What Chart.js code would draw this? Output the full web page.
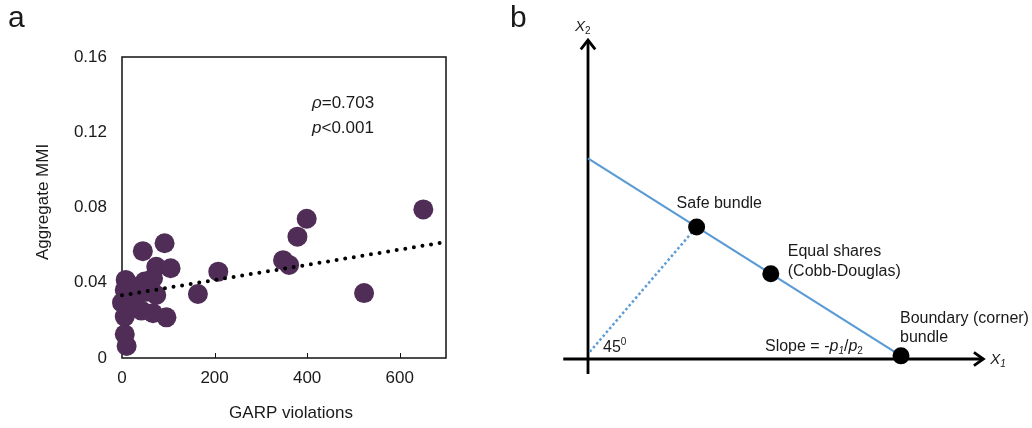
<!DOCTYPE html>
<html>
<head>
<meta charset="utf-8">
<script src="https://cdn.jsdelivr.net/npm/chart.js@4.4.1/dist/chart.umd.min.js"></script>
<style>
body{margin:0;background:#fff;width:1032px;height:428px;overflow:hidden;position:relative;}
canvas{position:absolute;top:0;}
#graficoA{left:0;}
#graficoB{left:500px;}
</style>
</head>
<body>
<canvas id="graficoA" width="500" height="428"></canvas>
<canvas id="graficoB" width="532" height="428"></canvas>
<script>
// painel a - GARP violations x Aggregate MMI
var violacoes = [651, 399, 379, 348, 361, 523, 208, 164, 92, 45, 74, 105, 8, 49, 67, 6, 74, 31, 0, 24, 42, 67, 96, 6, 6, 10, 17, 53, 17];
var mmi = [0.079, 0.074, 0.0645, 0.052, 0.0495, 0.0345, 0.0459, 0.034, 0.061, 0.0568, 0.0485, 0.0477, 0.0415, 0.0406, 0.0424, 0.0361, 0.0335, 0.0335, 0.0294, 0.030, 0.0252, 0.0238, 0.0216, 0.022, 0.0126, 0.0064, 0.0264, 0.0352, 0.0388];
var tendenciaX = [0, 700];
var tendenciaY = [0.0333, 0.0617];
var ticksX = [0, 200, 400, 600];
var ticksY = [0, 0.04, 0.08, 0.12, 0.16];

// painel b - diagrama da reta orcamentaria
var eixoVertX = [0, 0];
var eixoVertY = [-4.8, 101.9];
var eixoHorX = [-7.9, 126.3];
var eixoHorY = [0, 0];
var setaCimaX = [-2.3, 0, 2.3];
var setaCimaY = [98.9, 101.9, 98.9];
var setaDirX = [123.3, 126.3, 123.3];
var setaDirY = [2.1, 0, -2.1];
var restricaoX = [0, 100];
var restricaoY = [64.1, 1];
var cestasX = [34.7, 58.4, 100];
var cestasY = [42.2, 27.2, 1];
var linha45X = [0.6, 34.7];
var linha45Y = [2.3, 42.2];

var fonte = "'Liberation Sans', Arial, sans-serif";

function pontos(xs, ys){
    var p = [];
    for(var i=0;i<xs.length;i++){
        p.push({x: xs[i], y: ys[i]});
    }
    return p;
}

function escreve(ctx, partes, x, y){
    ctx.textBaseline = 'middle';
    ctx.textAlign = 'left';
    for(var i=0;i<partes.length;i++){
        var p = partes[i];
        ctx.font = p.f;
        ctx.fillText(p.t, x, y + (p.dy || 0));
        x += ctx.measureText(p.t).width;
    }
}

var extrasA = {
    id: 'extrasA',
    beforeDatasetsDraw: function(chart){
        var ctx = chart.ctx, a = chart.chartArea, sx = chart.scales.x;
        ctx.save();
        ctx.strokeStyle = '#111';
        ctx.lineWidth = 1.5;
        ctx.strokeRect(a.left, a.top, a.right - a.left, a.bottom - a.top);
        ctx.lineWidth = 1;
        for(var i=1;i<ticksX.length;i++){
            var px = Math.round(sx.getPixelForValue(ticksX[i])) + 0.5;
            ctx.beginPath();
            ctx.moveTo(px, a.bottom);
            ctx.lineTo(px, a.bottom - 5);
            ctx.stroke();
        }
        ctx.restore();
    },
    afterDraw: function(chart){
        var ctx = chart.ctx, a = chart.chartArea;
        ctx.save();
        ctx.fillStyle = '#1a1a1a';
        ctx.font = '30px ' + fonte;
        ctx.textBaseline = 'alphabetic';
        ctx.fillText('a', 8, 27);

        ctx.font = '17px ' + fonte;
        ctx.textAlign = 'center';
        ctx.textBaseline = 'middle';
        ctx.fillText('GARP violations', 291, 413);
        ctx.translate(43, 202);
        ctx.rotate(-Math.PI/2);
        ctx.fillText('Aggregate MMI', 0, 0);
        ctx.restore();

        ctx.save();
        ctx.fillStyle = '#1a1a1a';
        escreve(ctx, [{t:'\u03C1', f:'italic 17px ' + fonte}, {t:'=0.703', f:'17px ' + fonte}], 312, 103);
        escreve(ctx, [{t:'p', f:'italic 17px ' + fonte}, {t:'<0.001', f:'17px ' + fonte}], 312, 128);
        ctx.restore();
    }
};

function criaGraficoA(){
    var grafico = new Chart('graficoA', {
        type: 'scatter',
        data: {
            datasets: [
                {
                    label: 'Tendencia',
                    data: pontos(tendenciaX, tendenciaY),
                    showLine: true,
                    borderColor: '#000',
                    borderWidth: 4,
                    borderDash: [0, 8.7],
                    borderCapStyle: 'round',
                    pointRadius: 0,
                    clip: false
                },
                {
                    label: 'MMI',
                    data: pontos(violacoes, mmi),
                    backgroundColor: '#4f2d56',
                    borderWidth: 0,
                    pointRadius: 10,
                    pointHoverRadius: 10,
                    clip: false
                }
            ]
        },
        options: {
            responsive: false,
            animation: false,
            devicePixelRatio: 1,
            layout: {autoPadding: false, padding: {top: 57, right: 54, left: 0, bottom: 0}},
            plugins: {legend: {display: false}, tooltip: {enabled: false}},
            scales: {
                x: {
                    type: 'linear',
                    min: 0,
                    max: 700,
                    grid: {display: false, drawTicks: false},
                    border: {display: false},
                    afterBuildTicks: function(s){ s.ticks = ticksX.map(function(v){ return {value: v}; }); },
                    afterFit: function(s){ s.height = 70; },
                    ticks: {color: '#1a1a1a', font: {family: fonte, size: 17}, padding: 10, maxRotation: 0}
                },
                y: {
                    type: 'linear',
                    min: 0,
                    max: 0.16,
                    grid: {display: false, drawTicks: false},
                    border: {display: false},
                    afterBuildTicks: function(s){ s.ticks = ticksY.map(function(v){ return {value: v}; }); },
                    afterFit: function(s){ s.width = 122; },
                    ticks: {
                        color: '#1a1a1a',
                        font: {family: fonte, size: 17},
                        padding: 15,
                        callback: function(v){ return String(+v.toFixed(2)); }
                    }
                }
            }
        },
        plugins: [extrasA]
    });
}

var extrasB = {
    id: 'extrasB',
    afterDraw: function(chart){
        var ctx = chart.ctx, sx = chart.scales.x, sy = chart.scales.y;
        var f = '16px ' + fonte, fi = 'italic 16px ' + fonte, fs = '10px ' + fonte, fsi = 'italic 10px ' + fonte;
        ctx.save();
        ctx.fillStyle = '#1a1a1a';
        ctx.font = '30px ' + fonte;
        ctx.textBaseline = 'alphabetic';
        ctx.fillText('b', 10, 27);

        var ox = sx.getPixelForValue(0), oy = sy.getPixelForValue(0);
        var safeX = sx.getPixelForValue(cestasX[0]), safeY = sy.getPixelForValue(cestasY[0]);
        var igX = sx.getPixelForValue(cestasX[1]), igY = sy.getPixelForValue(cestasY[1]);
        var bX = sx.getPixelForValue(cestasX[2]), bY = sy.getPixelForValue(cestasY[2]);

        escreve(ctx, [{t:'Safe bundle', f:f}], safeX - 20, safeY - 23);
        escreve(ctx, [{t:'Equal shares', f:f}], igX + 17, igY - 22);
        escreve(ctx, [{t:'(Cobb-Douglas)', f:f}], igX + 17, igY - 2);
        escreve(ctx, [{t:'Boundary (corner)', f:f}], bX - 1, bY - 37);
        escreve(ctx, [{t:'bundle', f:f}], bX - 1, bY - 18);
        escreve(ctx, [{t:'Slope = -', f:f}, {t:'p', f:fi}, {t:'1', f:fsi, dy:4}, {t:'/', f:f}, {t:'p', f:fi}, {t:'2', f:fs, dy:4}], ox + 177, oy - 12);
        escreve(ctx, [{t:'45', f:f}, {t:'0', f:fs, dy:-6}], ox + 15, oy - 11);

        var topo = sy.getPixelForValue(eixoVertY[1]);
        escreve(ctx, [{t:'X', f:'italic 15px ' + fonte}, {t:'2', f:'10px ' + fonte, dy:4}], ox - 13, topo - 13);
        var fim = sx.getPixelForValue(eixoHorX[1]);
        escreve(ctx, [{t:'X', f:'italic 15px ' + fonte}, {t:'1', f:'italic 10px ' + fonte, dy:4}], fim + 7, oy + 1);
        ctx.restore();
    }
};

function linha(label, xs, ys, cor, largura, tracejado){
    return {
        label: label,
        data: pontos(xs, ys),
        showLine: true,
        borderColor: cor,
        borderWidth: largura,
        borderDash: tracejado || [],
        borderJoinStyle: 'miter',
        pointRadius: 0,
        clip: false
    };
}

function criaGraficoB(){
    var grafico = new Chart('graficoB', {
        type: 'scatter',
        data: {
            datasets: [
                {
                    label: 'Cestas',
                    data: pontos(cestasX, cestasY),
                    backgroundColor: '#000',
                    borderWidth: 0,
                    pointRadius: 8.5,
                    pointHoverRadius: 8.5,
                    clip: false
                },
                linha('Restricao', restricaoX, restricaoY, '#5b9bd5', 2.2),
                linha('45', linha45X, linha45Y, '#5b9bd5', 2.5, [2.5, 2.5]),
                linha('X2', eixoVertX, eixoVertY, '#000', 2.8),
                linha('X1', eixoHorX, eixoHorY, '#000', 2.8),
                linha('SetaCima', setaCimaX, setaCimaY, '#000', 2.8),
                linha('SetaDir', setaDirX, setaDirY, '#000', 2.8)
            ]
        },
        options: {
            responsive: false,
            animation: false,
            devicePixelRatio: 1,
            layout: {autoPadding: false, padding: 0},
            plugins: {legend: {display: false}, tooltip: {enabled: false}},
            scales: {
                x: {type: 'linear', display: false, min: -28.115, max: 141.853},
                y: {type: 'linear', display: false, min: -22.045, max: 114.696}
            }
        },
        plugins: [extrasB]
    });
}

criaGraficoA();
criaGraficoB();
</script>
</body>
</html>
